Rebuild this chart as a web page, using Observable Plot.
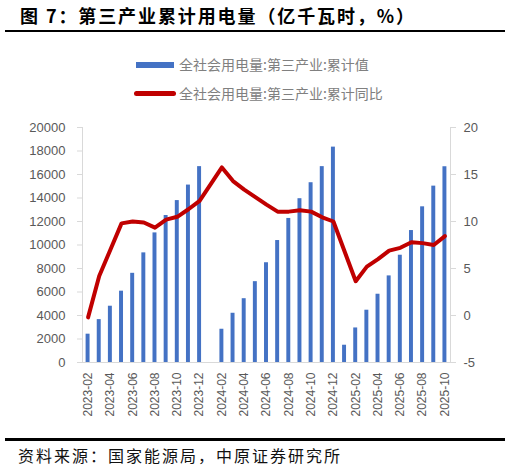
<!DOCTYPE html>
<html>
<head>
<meta charset="utf-8">
<script src="https://cdn.jsdelivr.net/npm/d3@7"></script>
<script src="https://cdn.jsdelivr.net/npm/@observablehq/plot@0.6"></script>
<style>
  body { margin: 0; background: #fff; font-family: "Noto Sans CJK SC", "Liberation Sans", sans-serif; }
  #page { position: relative; width: 511px; height: 471px; overflow: hidden; }
  .abs { position: absolute; white-space: nowrap; }
  #title { left: 20px; top: 4px; font-size: 18px; font-weight: bold; letter-spacing: 1.9px; line-height: 22px; color: #000; }
  .rule { left: 5px; width: 500px; background: #000; }
  .legtext { font-size: 14px; line-height: 16px; color: #808080; }
  #source { left: 18px; top: 446px; font-size: 16px; line-height: 18px; letter-spacing: 2px; color: #111; }
  #chart { left: 0; top: 110px; }
</style>
</head>
<body>
<div id="page">
  <div id="title" class="abs">图 7：第三产业累计用电量（亿千瓦时，%）</div>
  <div class="abs rule" style="top:29.5px;height:2.7px"></div>
  <div class="abs" style="left:136px;top:62px;width:38px;height:6px;background:#4472c4"></div>
  <div class="abs legtext" style="left:179px;top:56px">全社会用电量:第三产业:累计值</div>
  <div class="abs" style="left:134px;top:91px;width:42px;height:4.5px;background:#c00000;border-radius:3px"></div>
  <div class="abs legtext" style="left:179px;top:85px">全社会用电量:第三产业:累计同比</div>
  <div id="chart" class="abs"></div>
  <div class="abs rule" style="top:437.5px;height:3.3px"></div>
  <div id="source" class="abs">资料来源：国家能源局，中原证券研究所</div>
</div>
<script>
// Monthly cumulative tertiary-industry power use (亿千瓦时) and its YoY growth (%).
// 2024-01 has no data at all; 2025-01 has a value but no growth figure.
const months = [
  "2023-02", "2023-03", "2023-04", "2023-05", "2023-06", "2023-07", "2023-08", "2023-09", "2023-10", "2023-11", "2023-12",
  "2024-01", "2024-02", "2024-03", "2024-04", "2024-05", "2024-06", "2024-07", "2024-08", "2024-09", "2024-10", "2024-11", "2024-12",
  "2025-01", "2025-02", "2025-03", "2025-04", "2025-05", "2025-06", "2025-07", "2025-08", "2025-09", "2025-10"
];
const cumulative = [
  2410, 3650, 4790, 6070, 7590, 9330, 11030, 12510, 13780, 15100, 16670,
  null, 2830, 4190, 5430, 6880, 8490, 10380, 12260, 13940, 15300, 16670, 18330,
  1470, 2940, 4450, 5810, 7370, 9130, 11230, 13250, 15010, 16660
];
const yoy = [
  -0.2, 4.2, 7.0, 9.8, 10.0, 9.9, 9.35, 10.2, 10.5, 11.3, 12.2,
  null, 15.75, 14.3, 13.4, 12.6, 11.8, 11.05, 11.05, 11.2, 11.05, 10.45, 10.0,
  null, 3.65, 5.2, 6.0, 6.9, 7.2, 7.8, 7.7, 7.5, 8.45
];
const xTickLabels = months.filter((m, i) => i % 2 === 0);
const leftTicks = [0, 2000, 4000, 6000, 8000, 10000, 12000, 14000, 16000, 18000, 20000];
const rightTicks = [-5, 0, 5, 10, 15, 20];

(function () {
  // right axis [-5, 20] is drawn on the left scale [0, 20000]
  const toLeft = (v) => (v + 5) * 800;
  const fromLeft = (v) => v / 800 - 5;

  const rows = months.map((m, i) => ({ month: m, value: cumulative[i], yoy: yoy[i] }));
  const bars = rows.filter((d) => d.value != null);
  const line = rows.filter((d) => d.yoy != null);

  const axisGray = "#d9d9d9";
  const fig = Plot.plot({
    width: 511,
    height: 320,
    marginLeft: 82,
    marginRight: 61,
    marginTop: 17,
    marginBottom: 68,
    style: { color: "#595959", fontFamily: "'Liberation Sans', Arial, sans-serif", background: "transparent" },
    x: { domain: months, type: "band", padding: 0, round: false, label: null },
    y: { domain: [0, 20000], label: null },
    marks: [
      Plot.barY(bars, { x: "month", y: "value", fill: "#4472c4", insetLeft: 3.6, insetRight: 3.6 }),
      Plot.frame({ anchor: "left", stroke: axisGray }),
      Plot.frame({ anchor: "right", stroke: axisGray }),
      Plot.ruleY([0], { stroke: axisGray, strokeWidth: 1.2 }),
      Plot.lineY(line, {
        x: "month",
        y: (d) => toLeft(d.yoy),
        stroke: "#c00000",
        strokeWidth: 4,
        strokeLinejoin: "round",
        strokeLinecap: "round",
      }),
      Plot.axisY({ anchor: "left", ticks: leftTicks, tickFormat: (d) => String(d), tickSize: 5, tickPadding: 12, stroke: axisGray, fill: "#595959", fontSize: 13, label: null }),
      Plot.axisY({ anchor: "right", ticks: rightTicks.map(toLeft), tickFormat: (d) => String(Math.round(fromLeft(d))), tickSize: 5, tickPadding: 8, stroke: axisGray, fill: "#595959", fontSize: 13, label: null }),
      Plot.axisX({ ticks: xTickLabels, tickRotate: -90, tickSize: 0, tickPadding: 10, fill: "#595959", fontSize: 12, label: null }),
    ],
  });
  document.getElementById("chart").replaceChildren(fig);
})();
</script>
</body>
</html>
